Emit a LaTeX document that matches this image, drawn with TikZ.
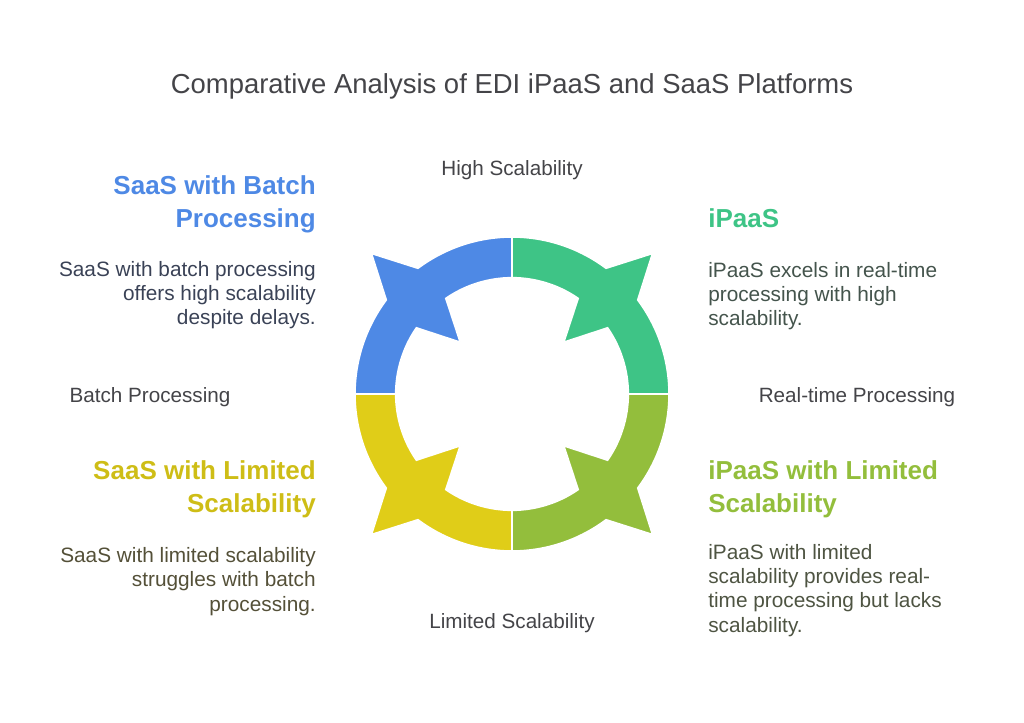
\documentclass[tikz,border=0pt]{standalone}
\usepackage{fontspec}
\setmainfont{Liberation Sans}
\usetikzlibrary{calc}
\definecolor{cblue}{RGB}{78,137,229}
\definecolor{cgreen}{RGB}{62,196,134}
\definecolor{clime}{RGB}{147,190,60}
\definecolor{cyellow}{RGB}{224,205,24}
\definecolor{tblue}{RGB}{58,66,86}
\definecolor{tgreen}{RGB}{68,84,76}
\definecolor{tyellow}{RGB}{84,80,56}
\definecolor{tlime}{RGB}{78,84,66}
\definecolor{tgray}{RGB}{68,68,72}
\tikzset{
  heading/.style={inner sep=0pt, font=\fontsize{19.5pt}{24.75pt}\selectfont\bfseries},
  body/.style={inner sep=0pt, font=\fontsize{15.6pt}{18.2pt}\selectfont},
  axislabel/.style={inner sep=0pt, font=\fontsize{15.5pt}{17pt}\selectfont, text=tgray},
  quad/.style={draw=white, line width=1.2pt, line join=miter}
}
\newcommand{\quadrant}[3]{%
  \pgfmathsetmacro{\mm}{(#1+#2)/2}
  \pgfmathsetmacro{\oa}{\mm-8.2}
  \pgfmathsetmacro{\ob}{\mm+8.2}
  \pgfmathsetmacro{\ia}{\mm-10.3}
  \pgfmathsetmacro{\ib}{\mm+10.3}
  \fill[#3, quad] ($(c)+(#1:157)$) arc[start angle=#1, end angle=\oa, radius=117.75pt]
    -- ($(c)+(\mm:198.7)$) -- ($(c)+(\ob:157)$)
    arc[start angle=\ob, end angle=#2, radius=117.75pt]
    -- ($(c)+(#2:116.3)$) arc[start angle=#2, end angle=\ib, radius=87.225pt]
    -- ($(c)+(\mm:73.3)$) -- ($(c)+(\ia:116.3)$)
    arc[start angle=\ia, end angle=#1, radius=87.225pt] -- cycle;
}
\begin{document}
\begin{tikzpicture}[x=0.75pt, y=0.75pt]
\useasboundingbox (0,0) rectangle (1024,722);
\coordinate (c) at (512,328);
\quadrant{90}{180}{cblue}
\quadrant{0}{90}{cgreen}
\quadrant{-90}{0}{clime}
\quadrant{180}{270}{cyellow}

\node[inner sep=0pt, anchor=base, font=\fontsize{20.6pt}{22pt}\selectfont, text=tgray] (title) at (512,628) {Comparative Analysis of EDI iPaaS and SaaS Platforms};

\node[axislabel, anchor=base] (top) at (512,546) {High Scalability};
\node[axislabel, anchor=base] (bottom) at (512,94) {Limited Scalability};
\node[axislabel, anchor=base] (left) at (150,320) {Batch Processing};
\node[axislabel, anchor=base] (right) at (857,320) {Real-time Processing};

\node[heading, text=cblue, anchor=base east, align=right] (h1) at (316,494) {SaaS with Batch\\Processing};
\node[body, text=tblue, anchor=base east, align=right] (b1) at (316,397) {SaaS with batch processing\\offers high scalability\\despite delays.};

\node[heading, text=cgreen, anchor=base west, align=left] (h2) at (708,494) {iPaaS};
\node[body, text=tgreen, anchor=base west, align=left] (b2) at (708,396) {iPaaS excels in real-time\\processing with high\\scalability.};

\node[heading, text=cyellow!92!black, anchor=base east, align=right] (h3) at (316,210) {SaaS with Limited\\Scalability};
\node[body, text=tyellow, anchor=base east, align=right] (b3) at (316,111) {SaaS with limited scalability\\struggles with batch\\processing.};

\node[heading, text=clime, anchor=base west, align=left] (h4) at (708,210) {iPaaS with Limited\\Scalability};
\node[body, text=tlime, anchor=base west, align=left] (b4) at (708,90) {iPaaS with limited\\scalability provides real-\\time processing but lacks\\scalability.};
\end{tikzpicture}
\end{document}
